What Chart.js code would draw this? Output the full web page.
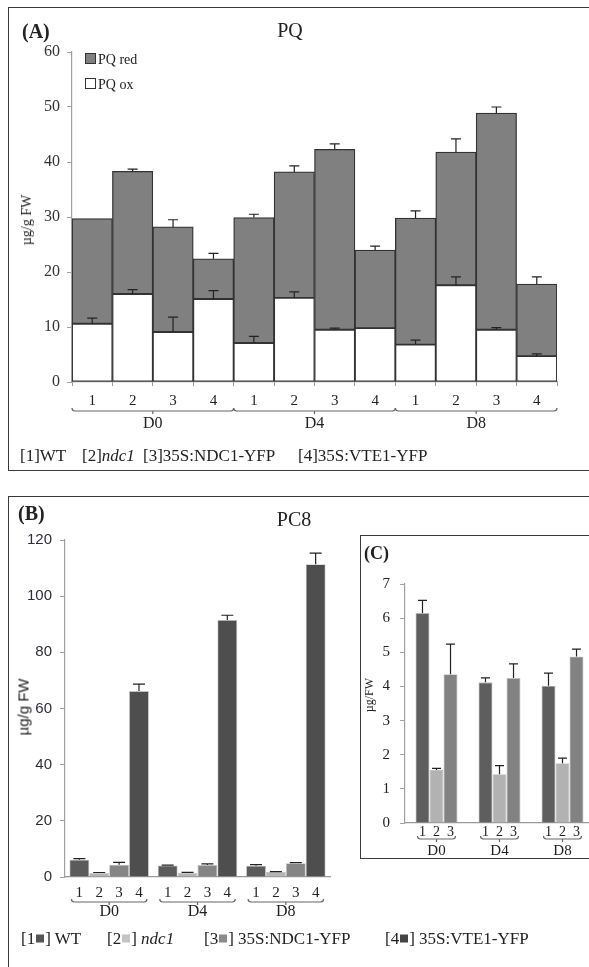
<!DOCTYPE html>
<html>
<head>
<meta charset="utf-8">
<script src="https://cdn.jsdelivr.net/npm/chart.js@4.4.1/dist/chart.umd.min.js"></script>
<style>
  html, body { margin: 0; padding: 0; background: #fff; }
  body { width: 589px; height: 967px; position: relative; overflow: hidden;
         font-family: "Liberation Serif", "Times New Roman", serif; color: #222; }
  .frame { position: absolute; border: 1.5px solid #3a3a3a; box-sizing: border-box; }
  .t { position: absolute; white-space: nowrap; line-height: 1; }
  .c { transform: translate(-50%, -50%); }
  .m { transform: translateY(-50%); }
  .sq { display: inline-block; width: 8px; height: 8px; margin: 0 1px; vertical-align: 1px; }
  .box { position: absolute; width: 11px; height: 11px; border: 1.2px solid #333; box-sizing: border-box; }
  canvas { position: absolute; }
</style>
</head>
<body>

<!-- Panel A: plastoquinone -->
<div class="frame" style="left:8px;top:7px;width:600px;height:464px"></div>
<canvas id="pq" width="589" height="470" style="left:0;top:0"></canvas>
<div class="t m" style="left:22px;top:31px;font-size:20px;font-weight:bold">(A)</div>
<div class="t c" style="left:290px;top:30px;font-size:20px">PQ</div>
<div class="t" style="left:27px;top:220px;font-size:14px;transform:translate(-50%,-50%) rotate(-90deg)">µg/g FW</div>
<div class="box" style="left:85px;top:53px;background:#808080"></div>
<div class="t m" style="left:98px;top:60px;font-size:14px">PQ red</div>
<div class="box" style="left:85px;top:78px;background:#fff"></div>
<div class="t m" style="left:98px;top:85px;font-size:14px">PQ ox</div>
<div class="t m" style="left:20px;top:455px;font-size:17px">[1]WT</div>
<div class="t m" style="left:82px;top:455px;font-size:17px">[2]<i>ndc1</i></div>
<div class="t m" style="left:143px;top:455px;font-size:17px">[3]35S:NDC1-YFP</div>
<div class="t m" style="left:298px;top:455px;font-size:17px">[4]35S:VTE1-YFP</div>

<!-- Panel B: plastochromanol-8 -->
<div class="frame" style="left:8px;top:496px;width:600px;height:500px"></div>
<canvas id="pc8" width="589" height="477" style="left:0;top:490px"></canvas>
<div class="t m" style="left:18px;top:513px;font-size:20px;font-weight:bold">(B)</div>
<div class="t c" style="left:294px;top:519px;font-size:20px">PC8</div>
<div class="t" style="left:23px;top:707px;font-size:15px;font-family:'Liberation Sans',Arial,sans-serif;transform:translate(-50%,-50%) rotate(-90deg)">µg/g FW</div>
<div class="t m" style="left:21px;top:938px;font-size:17px">[1<span class="sq" style="background:#555"></span>] WT</div>
<div class="t m" style="left:107px;top:938px;font-size:17px">[2<span class="sq" style="background:#c4c4c4"></span>] <i>ndc1</i></div>
<div class="t m" style="left:204px;top:938px;font-size:17px">[3<span class="sq" style="background:#8a8a8a"></span>] 35S:NDC1-YFP</div>
<div class="t m" style="left:385px;top:938px;font-size:17px">[4<span class="sq" style="background:#444"></span>] 35S:VTE1-YFP</div>

<!-- Panel C: PC8 inset without the overexpressor -->
<div class="frame" style="left:360px;top:535px;width:260px;height:324px;background:#fff"></div>
<canvas id="pc8c" width="240" height="321" style="left:361px;top:537px"></canvas>
<div class="t m" style="left:364px;top:553px;font-size:18px;font-weight:bold">(C)</div>
<div class="t" style="left:369px;top:695px;font-size:12px;transform:translate(-50%,-50%) rotate(-90deg)">µg/FW</div>

<script>
// ---- data -------------------------------------------------------------
const days = ['D0', 'D4', 'D8'];
const lineNumbers = ['1', '2', '3', '4'];

// PQ content, µg/g FW; order: D0 lines 1-4, D4 lines 1-4, D8 lines 1-4
const pqOx     = [10.6, 16.0, 9.1, 15.1,  7.1, 15.3,  9.5,  9.8,  6.8, 17.6,  9.5,  4.7];
const pqRed    = [19.1, 22.3, 19.1, 7.3, 22.8, 22.9, 32.8, 14.2, 23.0, 24.2, 39.4, 13.1];
const pqOxErr  = [1.0, 0.8, 2.7, 1.5,  1.2, 1.1, 0.3, 0.0,  0.8, 1.5, 0.4, 0.4];
const pqRedErr = [0.0, 0.4, 1.3, 1.0,  0.6, 1.1, 1.0, 0.7,  1.3, 2.4, 1.1, 1.3];

// PC8 content per day (D0, D4, D8), µg/g FW
const pc8WT      = [6.15, 4.12, 4.02];
const pc8Ndc1    = [1.55, 1.43, 1.75];
const pc8Ndc1Yfp = [4.36, 4.25, 4.88];
const pc8Vte1Yfp = [66.2, 91.5, 111.4];
const pc8WTErr      = [0.37, 0.13, 0.37];
const pc8Ndc1Err    = [0.05, 0.25, 0.15];
const pc8Ndc1YfpErr = [0.88, 0.41, 0.21];
const pc8Vte1YfpErr = [2.5, 1.7, 3.9];

const pqTicks  = { min: 0, max: 60,  step: 10 };
const pc8Ticks = { min: 0, max: 120, step: 20 };
const insetTicks = { min: 0, max: 7, step: 1 };

// ---- helpers ----------------------------------------------------------
const SERIF = "'Liberation Serif', 'Times New Roman', serif";
const SANS = "'Liberation Sans', Arial, sans-serif";
Chart.defaults.font.family = SERIF;

// upward error bars with caps, drawn from the top of each bar segment
function errorBars(cap, color) {
  return {
    id: 'errorBars',
    afterDatasetsDraw(chart) {
      const ctx = chart.ctx, y = chart.scales.y;
      ctx.save();
      ctx.strokeStyle = color;
      ctx.lineWidth = 1.2;
      chart.data.datasets.forEach((ds, di) => {
        if (!ds.errors) return;
        chart.getDatasetMeta(di).data.forEach((el, i) => {
          const e = ds.errors[i];
          if (!e) return;
          const top = el.y - (y.getPixelForValue(0) - y.getPixelForValue(e));
          ctx.beginPath();
          ctx.moveTo(el.x, el.y);
          ctx.lineTo(el.x, top);
          ctx.moveTo(el.x - cap / 2, top);
          ctx.lineTo(el.x + cap / 2, top);
          ctx.stroke();
        });
      });
      ctx.restore();
    }
  };
}

// line numbers under each bar, a brace under each day and the day name
function dayBraces(o) {
  return {
    id: 'dayBraces',
    afterDraw(chart) {
      const ctx = chart.ctx, bottom = chart.chartArea.bottom;
      const metas = chart.getSortedVisibleDatasetMetas();
      const groups = o.groups.map((name, g) => o.stacked
        ? metas[0].data.slice(g * o.items.length, (g + 1) * o.items.length)
        : metas.map(m => m.data[g]));
      ctx.save();
      ctx.fillStyle = '#222';
      ctx.strokeStyle = '#666';
      ctx.lineWidth = 1.2;
      ctx.textAlign = 'center';
      ctx.textBaseline = 'middle';
      groups.forEach((els, g) => {
        ctx.font = o.itemFont;
        els.forEach((el, i) => ctx.fillText(o.items[i], el.x, bottom + o.itemY));
        const first = els[0], last = els[els.length - 1];
        const l = first.x - first.width / 2 + o.inset;
        const r = last.x + last.width / 2 - o.inset;
        const by = bottom + o.braceY, c = (l + r) / 2, k = 3;
        ctx.beginPath();
        ctx.moveTo(l, by - k);
        ctx.quadraticCurveTo(l, by, l + k, by);
        ctx.lineTo(r - k, by);
        ctx.quadraticCurveTo(r, by, r, by - k);
        ctx.moveTo(c, by);
        ctx.lineTo(c, by + k);
        ctx.stroke();
        ctx.font = o.groupFont;
        ctx.fillText(o.groups[g], c, bottom + o.groupY);
      });
      ctx.restore();
    }
  };
}

function yAxis(t, width, font, color, tickLen, pad, axisColor) {
  return {
    min: t.min, max: t.max,
    ticks: { stepSize: t.step, font: font, color: color, padding: pad },
    grid: { drawOnChartArea: false, drawTicks: true, tickLength: tickLen, color: axisColor },
    border: { display: true, color: axisColor, width: 1.2 },
    afterFit: s => { s.width = width; }
  };
}

const common = {
  responsive: false,
  animation: false,
  devicePixelRatio: 1,
  events: [],
};

// ---- panel A: stacked PQ ox / PQ red ----------------------------------
const pqLabels = days.flatMap(d => lineNumbers.map(n => d + '-' + n));
new Chart(document.getElementById('pq'), {
  type: 'bar',
  data: {
    labels: pqLabels,
    datasets: [
      { label: 'PQ ox', data: pqOx, errors: pqOxErr, backgroundColor: '#ffffff',
        borderColor: '#333', borderWidth: 1.3, borderSkipped: false,
        categoryPercentage: 1, barPercentage: 1 },
      { label: 'PQ red', data: pqRed, errors: pqRedErr, backgroundColor: '#808080',
        borderColor: '#333', borderWidth: 1.3, borderSkipped: false,
        categoryPercentage: 1, barPercentage: 1 }
    ]
  },
  options: Object.assign({}, common, {
    layout: { padding: { left: 0, top: 52, right: 32, bottom: 0 } },
    plugins: { legend: { display: false }, tooltip: { enabled: false } },
    scales: {
      x: {
        stacked: true,
        ticks: { display: false },
        grid: { drawOnChartArea: false, drawTicks: true, tickLength: 4, color: '#999', offset: true },
        border: { display: true, color: '#999', width: 1.2 },
        afterFit: s => { s.height = 88; }
      },
      y: Object.assign(yAxis(pqTicks, 72, { family: SERIF, size: 16 }, '#333', 5, 7, '#a0a0a0'),
                       { stacked: true })
    }
  }),
  plugins: [
    errorBars(10, '#222'),
    dayBraces({ stacked: true, items: lineNumbers, groups: days,
                itemFont: '15px ' + SERIF, groupFont: '16px ' + SERIF,
                itemY: 19, braceY: 29, groupY: 42, inset: 0 })
  ]
});

// ---- panel B: PC8, all four lines ------------------------------------
const pc8Colors = ['#5b5b5b', '#b5b5b5', '#858585', '#4e4e4e'];
const pc8Series = [
  ['WT', pc8WT, pc8WTErr],
  ['ndc1', pc8Ndc1, pc8Ndc1Err],
  ['35S:NDC1-YFP', pc8Ndc1Yfp, pc8Ndc1YfpErr],
  ['35S:VTE1-YFP', pc8Vte1Yfp, pc8Vte1YfpErr]
];
new Chart(document.getElementById('pc8'), {
  type: 'bar',
  data: {
    labels: days,
    datasets: pc8Series.map(([name, vals, errs], i) => ({
      label: name, data: vals, errors: errs, backgroundColor: pc8Colors[i],
      borderColor: 'rgba(170,170,170,0.7)', borderWidth: 0.8,
      categoryPercentage: 0.9, barPercentage: 1
    }))
  },
  options: Object.assign({}, common, {
    layout: { padding: { left: 0, top: 50, right: 259, bottom: 0 } },
    plugins: { legend: { display: false }, tooltip: { enabled: false } },
    scales: {
      x: {
        ticks: { display: false },
        grid: { display: false },
        border: { display: true, color: '#999', width: 1.2 },
        afterFit: s => { s.height = 90; }
      },
      y: yAxis(pc8Ticks, 65, { family: SANS, size: 15 }, '#2d2d3a', 5, 8, '#a0a0a0')
    }
  }),
  plugins: [
    errorBars(12, '#222'),
    dayBraces({ stacked: false, items: lineNumbers, groups: days,
                itemFont: '15px ' + SERIF, groupFont: '16px ' + SERIF,
                itemY: 16, braceY: 25, groupY: 35, inset: 2 })
  ]
});

// ---- panel C: PC8 inset, lines 1-3 -------------------------------------
new Chart(document.getElementById('pc8c'), {
  type: 'bar',
  data: {
    labels: days,
    datasets: pc8Series.slice(0, 3).map(([name, vals, errs], i) => ({
      label: name, data: vals, errors: errs, backgroundColor: ['#5e5e5e', '#b2b2b2', '#828282'][i],
      borderColor: 'rgba(170,170,170,0.7)', borderWidth: 0.8,
      categoryPercentage: 0.667, barPercentage: 1
    }))
  },
  options: Object.assign({}, common, {
    layout: { padding: { left: 0, top: 47, right: 7, bottom: 0 } },
    plugins: { legend: { display: false }, tooltip: { enabled: false } },
    scales: {
      x: {
        ticks: { display: false },
        grid: { display: false },
        border: { display: true, color: '#999', width: 1.2 },
        afterFit: s => { s.height = 35; }
      },
      y: yAxis(insetTicks, 44, { family: SERIF, size: 15 }, '#222', 5, 10, '#a0a0a0')
    }
  }),
  plugins: [
    errorBars(9, '#222'),
    dayBraces({ stacked: false, items: lineNumbers.slice(0, 3), groups: days,
                itemFont: '14px ' + SERIF, groupFont: '15px ' + SERIF,
                itemY: 9, braceY: 16, groupY: 28, inset: 2 })
  ]
});
</script>
</body>
</html>
